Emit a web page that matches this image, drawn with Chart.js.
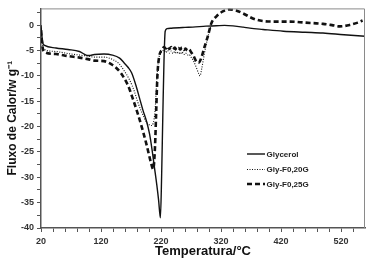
<!DOCTYPE html>
<html>
<head>
<meta charset="utf-8">
<script src="https://cdn.jsdelivr.net/npm/chart.js@4.4.1/dist/chart.umd.min.js"></script>
<style>
  html, body { margin: 0; padding: 0; background: #fff; }
  #wrap { width: 371px; height: 261px; position: relative; }
</style>
</head>
<body>
<div id="wrap"><canvas id="c" width="371" height="261"></canvas></div>
<script>
// ---- Data ----
const seriesNames = ["Glycerol", "Gly-F0,20G", "Gly-F0,25G"];

const glyT = [20, 21, 23, 26, 45, 65, 84, 95, 100, 109, 125, 139, 151, 159, 165, 171, 179, 184, 190, 196, 201, 205, 209, 213, 216, 219, 221, 223, 225, 227, 230, 237, 260, 273, 295, 312, 326, 340, 357, 368, 390, 424, 460, 490, 525, 560];
const glyV = [0, -1.5, -3.5, -4.0, -4.5, -4.8, -5.2, -5.9, -6.0, -5.8, -5.7, -5.9, -6.5, -7.5, -8.3, -9.4, -12.2, -14.3, -16.8, -19.0, -21.5, -24.5, -28.0, -31.5, -34.5, -38.0, -30.0, -18.0, -7.0, -1.2, -0.7, -0.6, -0.45, -0.4, -0.2, -0.13, -0.05, -0.15, -0.4, -0.6, -0.85, -1.2, -1.4, -1.55, -1.9, -2.2];

const f20T = [20, 21, 23, 26, 45, 65, 84, 98, 109, 125, 143, 150, 157, 168, 176, 181, 188, 195, 201, 204, 207, 210, 212, 214, 217, 222, 225, 228, 231, 234, 237, 240, 243, 246, 249, 252, 255, 258, 261, 264, 267, 270, 274, 279, 283, 285, 288, 291, 295, 300, 305];
const f20V = [-0.5, -2.0, -4.2, -4.8, -5.2, -5.6, -5.9, -6.1, -6.3, -6.3, -7.0, -7.6, -8.7, -10.9, -13.2, -15.1, -17.2, -19.0, -19.7, -19.8, -19.3, -17.0, -13.0, -9.0, -6.2, -5.2, -4.9, -5.4, -5.0, -5.5, -5.1, -5.6, -5.2, -5.6, -5.3, -5.7, -5.3, -5.8, -5.5, -5.9, -5.8, -6.3, -7.0, -8.4, -9.6, -10.0, -8.5, -6.5, -4.0, -1.5, 0.5];

const f25T = [20, 21, 23, 26, 45, 65, 84, 98, 109, 125, 137, 146, 154, 165, 173, 184, 196, 203, 207, 210, 212, 214, 217, 222, 225, 228, 231, 234, 237, 240, 243, 246, 249, 252, 255, 258, 261, 264, 267, 270, 274, 279, 283, 287, 292, 298, 304, 312, 323, 334, 345, 357, 368, 378, 390, 410, 435, 460, 490, 505, 518, 535, 548, 556];
const f25V = [-1.0, -2.5, -4.6, -5.3, -5.7, -6.1, -6.4, -6.7, -7.0, -7.1, -7.7, -8.5, -9.6, -11.9, -14.5, -18.5, -23.6, -27.0, -28.4, -24.0, -17.0, -10.0, -6.2, -4.8, -4.3, -4.6, -4.2, -4.7, -4.3, -4.8, -4.4, -4.9, -4.5, -4.8, -4.4, -4.9, -4.6, -5.0, -4.8, -5.3, -6.0, -7.2, -7.4, -6.5, -4.5, -2.2, 0.4, 1.7, 2.7, 3.1, 2.9, 2.3, 1.6, 1.1, 0.8, 0.7, 0.7, 0.5, 0.25, 0.0, -0.25, 0.05, 0.5, 0.9];

const xTicks = [20, 40, 60, 80, 100, 120, 140, 160, 180, 200, 220, 240, 260, 280, 300, 320, 340, 360, 380, 400, 420, 440, 460, 480, 500, 520, 540];
const xTickLabels = [20, 120, 220, 320, 420, 520];
const yTicks = [-40, -37.5, -35, -32.5, -30, -27.5, -25, -22.5, -20, -17.5, -15, -12.5, -10, -7.5, -5, -2.5, 0, 2.5];
const yTickLabels = [-40, -35, -30, -25, -20, -15, -10, -5, 0];

const xTitle = "Temperatura/°C";
const yTitle = "Fluxo de Calor/w g⁻¹";

// ---- Build ----
const zip = (t, v) => t.map((x, i) => ({ x: x, y: v[i] }));
const styles = [
  { borderWidth: 1.4, borderDash: [] },
  { borderWidth: 1.1, borderDash: [1, 1.5] },
  { borderWidth: 2.6, borderDash: [5, 3] }
];
const datasets = [zip(glyT, glyV), zip(f20T, f20V), zip(f25T, f25V)].map((d, i) => ({
  label: seriesNames[i],
  data: d,
  borderColor: '#111',
  backgroundColor: '#111',
  borderWidth: styles[i].borderWidth,
  borderDash: styles[i].borderDash,
  pointRadius: 0,
  fill: false,
  cubicInterpolationMode: 'monotone'
}));

const tickFont = { family: "'Liberation Sans', Arial, sans-serif", size: 9, weight: 'bold' };
const titleFont = { family: "'Liberation Sans Narrow', 'Liberation Sans', Arial, sans-serif", size: 13, weight: 'bold' };

const frame = {
  id: 'frame',
  afterDatasetsDraw(chart) {
    const { ctx, chartArea: a } = chart;
    ctx.save();
    ctx.strokeStyle = '#8a8a8a';
    ctx.lineWidth = 1;
    ctx.beginPath();
    ctx.moveTo(a.left, a.top + 0.5);
    ctx.lineTo(a.right - 0.5, a.top + 0.5);
    ctx.lineTo(a.right - 0.5, a.bottom);
    ctx.stroke();
    ctx.restore();
  }
};

const legendBox = {
  id: 'legendBox',
  afterDraw(chart) {
    const { ctx } = chart;
    const rows = [154, 169.5, 184];
    ctx.save();
    ctx.font = "bold 8px 'Liberation Sans', Arial, sans-serif";
    ctx.textBaseline = 'middle';
    ctx.fillStyle = '#222';
    rows.forEach((y, i) => {
      ctx.beginPath();
      ctx.strokeStyle = '#111';
      ctx.lineWidth = styles[i].borderWidth;
      ctx.setLineDash(styles[i].borderDash);
      ctx.moveTo(247, y);
      ctx.lineTo(265, y);
      ctx.stroke();
      ctx.setLineDash([]);
      ctx.fillText(seriesNames[i], 266.5, y + 0.5);
    });
    ctx.restore();
  }
};

new Chart(document.getElementById('c'), {
  type: 'line',
  data: { datasets },
  options: {
    responsive: false,
    devicePixelRatio: 1,
    animation: false,
    layout: { padding: { top: 5, right: 6, left: 0, bottom: 0 } },
    plugins: { legend: { display: false }, tooltip: { enabled: false } },
    scales: {
      x: {
        type: 'linear',
        min: 20,
        max: 560,
        afterFit(s) { s.height = 33; },
        afterBuildTicks(s) { s.ticks = xTicks.map(v => ({ value: v })); },
        ticks: {
          autoSkip: false,
          maxRotation: 0,
          padding: 4,
          color: '#333',
          font: tickFont,
          callback: v => xTickLabels.includes(v) ? String(v) : ''
        },
        grid: { drawOnChartArea: false, tickLength: 4, color: '#555', tickWidth: 1 },
        border: { color: '#555', width: 1.5 },
        title: { display: true, text: xTitle, color: '#111', font: titleFont, padding: { top: 0, bottom: 2 } }
      },
      y: {
        type: 'linear',
        min: -40,
        max: 3.3,
        afterFit(s) { s.width = 41; },
        afterBuildTicks(s) { s.ticks = yTicks.map(v => ({ value: v })); },
        ticks: {
          autoSkip: false,
          padding: 3,
          color: '#333',
          font: tickFont,
          callback: v => yTickLabels.includes(v) ? String(v) : ''
        },
        grid: { drawOnChartArea: false, tickLength: 4, color: '#555', tickWidth: 1 },
        border: { color: '#555', width: 1.5 },
        title: { display: true, text: yTitle, color: '#111', font: { family: "'Liberation Sans', Arial, sans-serif", size: 12, weight: 'bold' }, padding: { top: 5, bottom: 0 } }
      }
    }
  },
  plugins: [frame, legendBox]
});
</script>
</body>
</html>
